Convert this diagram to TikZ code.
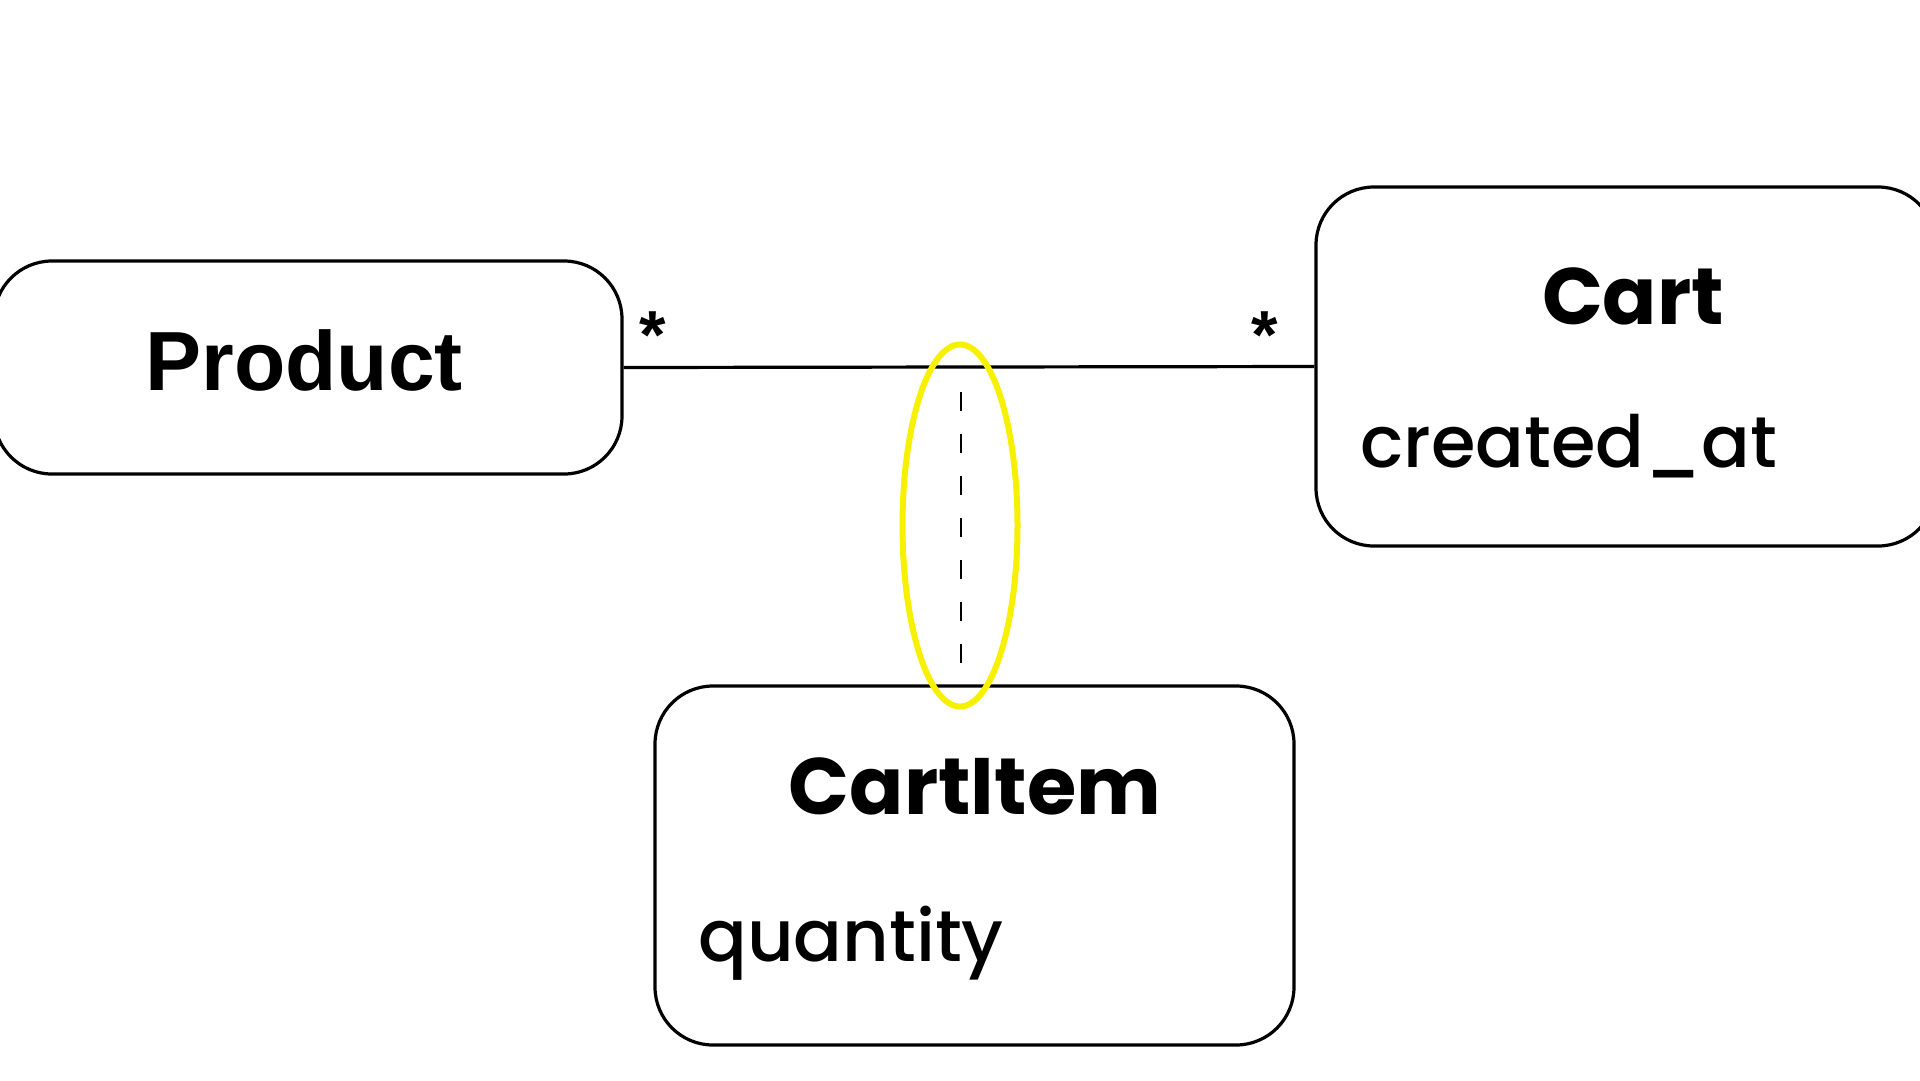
\documentclass[tikz,border=0pt]{standalone}
\usepackage{fontspec}
\usetikzlibrary{shapes.geometric}
\newfontfamily\popfont{Poppins}
\newfontfamily\popmed{Poppins Medium}
\newfontfamily\helvfont{Liberation Sans}
\definecolor{hilite}{HTML}{F7F000}
\tikzset{
  classbox/.style={draw=black, line width=3.2pt, rounded corners=58pt, fill=white, inner sep=0pt},
  titletext/.style={anchor=base, inner sep=0pt, font=\popfont\bfseries\fontsize{80}{96}\selectfont},
  attrtext/.style={anchor=base west, inner sep=0pt, font=\popmed\fontsize{72}{86}\selectfont},
  multtext/.style={anchor=center, inner sep=0pt, font=\helvfont\bfseries\fontsize{68}{70}\selectfont},
  assocline/.style={draw=black, line width=3.2pt},
  linkline/.style={draw=black, line width=2.8pt, dash pattern=on 19pt off 23pt},
  ringmark/.style={draw=hilite, line width=6pt, ellipse, inner sep=0pt}
}
\begin{document}
\begin{tikzpicture}[x=1pt, y=-1pt]
  \useasboundingbox[fill=white] (0,0) rectangle (1920,1080);

  % class boxes
  \node[classbox, minimum width=628pt, minimum height=213pt] (prod) at (308,367.5) {};
  \node[classbox, minimum width=620pt, minimum height=359pt] (cart) at (1626,366.5) {};
  \node[classbox, minimum width=639pt, minimum height=359pt] (item) at (974.5,865.5) {};

  % class names and attributes
  \node[anchor=base, inner sep=0pt, font=\helvfont\bfseries\fontsize{84}{100}\selectfont] (prodname) at (304,390) {Product};
  \node[titletext] (cartname) at (1633,324) {Cart};
  \node[attrtext] (cartattr) at (1360,467) {created\_at};
  \node[titletext] (itemname) at (975,814) {CartItem};
  \node[attrtext] (itemattr) at (698,961) {quantity};

  % association between Product and Cart
  \draw[assocline] (prod.east) -- (cart.west);
  \node[multtext] (multl) at (653,335) {*};
  \node[multtext] (multr) at (1265,335) {*};

  % association class link
  \coordinate (dtop) at (961,392);
  \coordinate (dbot) at (961,667);
  \draw[linkline] (dtop) -- (dbot);

  % highlight ring around the link
  \node[ringmark, minimum width=115pt, minimum height=362pt] (ring) at (960,525.5) {};
\end{tikzpicture}
\end{document}
